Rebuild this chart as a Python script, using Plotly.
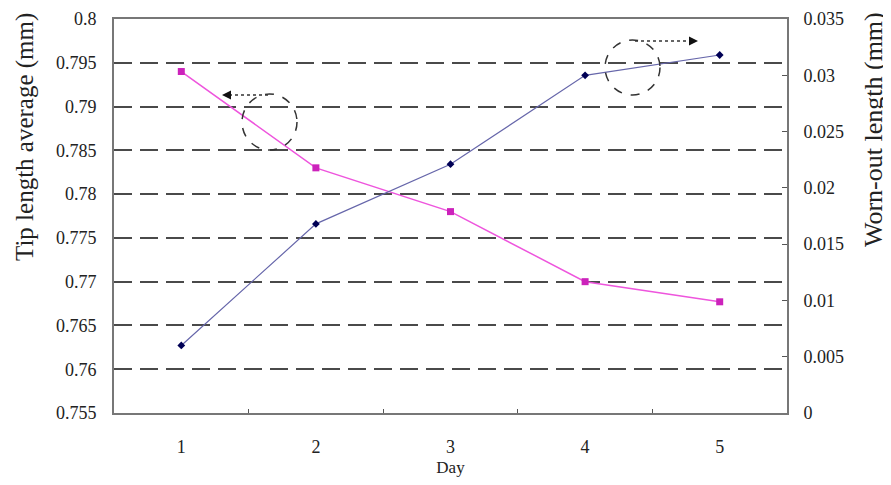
import plotly.graph_objects as go

days = ["1", "2", "3", "4", "5"]
tip_length = [0.7940, 0.7830, 0.7780, 0.7700, 0.7677]
worn_out = [0.0060, 0.0168, 0.0221, 0.0300, 0.0318]

left_ticks = [0.755, 0.76, 0.765, 0.77, 0.775, 0.78, 0.785, 0.79, 0.795, 0.8]
left_labels = ["0.755", "0.76", "0.765", "0.77", "0.775", "0.78", "0.785", "0.79", "0.795", "0.8"]
right_ticks = [0, 0.005, 0.01, 0.015, 0.02, 0.025, 0.03, 0.035]
right_labels = ["0", "0.005", "0.01", "0.015", "0.02", "0.025", "0.03", "0.035"]

FONT = "Liberation Serif, Times New Roman, serif"
TXT = "#222222"

fig = go.Figure()
fig.add_trace(go.Scatter(
    x=days, y=tip_length, mode="lines+markers", name="Tip length average",
    line=dict(color="#EE55DD", width=1.5),
    marker=dict(symbol="square", size=7, color="#CC22BB"),
    yaxis="y"))
fig.add_trace(go.Scatter(
    x=days, y=worn_out, mode="lines+markers", name="Worn-out length",
    line=dict(color="#6666AA", width=1.2),
    marker=dict(symbol="diamond", size=6, color="#000055"),
    yaxis="y2"))

# page has 8px body margin: figure is 883x477 placed at (8,8)
fig.update_layout(
    width=883, height=477,
    margin=dict(l=106, r=104, t=11, b=72),
    paper_bgcolor="white", plot_bgcolor="white",
    showlegend=False,
    font=dict(family=FONT, size=18, color=TXT),
    xaxis=dict(
        type="category", tickson="boundaries", ticks="inside", ticklen=4,
        tickcolor="#555555", showgrid=False, showline=True, linecolor="#777777",
        linewidth=2, mirror=True, range=[-0.5, 4.5], automargin=False,
        title=dict(text="Day", font=dict(family=FONT, size=17, color=TXT), standoff=6),
        tickfont=dict(family=FONT, size=18, color=TXT), ticklabelstandoff=16,
    ),
    yaxis=dict(
        range=[0.755, 0.8], tickvals=left_ticks, ticktext=left_labels,
        showgrid=True, gridcolor="#4a4a4a", gridwidth=2, griddash="18px,8px",
        zeroline=False, showline=True, linecolor="#777777", linewidth=2,
        ticks="", tickfont=dict(family=FONT, size=18, color=TXT), ticklabelstandoff=12,
        automargin=False, ticklabeloverflow="allow",
    ),
    yaxis2=dict(
        range=[0, 0.035], tickvals=right_ticks, ticktext=right_labels,
        overlaying="y", side="right", showgrid=False, zeroline=False,
        showline=True, linecolor="#777777", linewidth=2,
        ticks="inside", ticklen=5, tickcolor="#555555", automargin=False,
        tickfont=dict(family=FONT, size=18, color=TXT), ticklabelstandoff=11,
        ticklabeloverflow="allow",
    ),
)

PLOT_TOP, PLOT_BOTTOM = 19.0, 413.0

def px(x):
    return (x - 114) / 673.0

def py(y):
    return (PLOT_BOTTOM - y) / (PLOT_BOTTOM - PLOT_TOP)

# axis titles (placed like the reference, off-centre)
fig.add_annotation(xref="paper", yref="paper", x=px(25), y=py(137),
                   text="Tip length average (mm)", textangle=-90, showarrow=False,
                   font=dict(family=FONT, size=25, color=TXT),
                   xanchor="center", yanchor="middle")
fig.add_annotation(xref="paper", yref="paper", x=px(873), y=py(130),
                   text="Worn-out length (mm)", textangle=-90, showarrow=False,
                   font=dict(family=FONT, size=26, color=TXT),
                   xanchor="center", yanchor="middle")

# dashed ellipses
fig.add_shape(type="circle", xref="paper", yref="paper",
              x0=px(242), x1=px(297), y0=py(150), y1=py(94),
              line=dict(color="#333333", width=1.5, dash="dash"))
fig.add_shape(type="circle", xref="paper", yref="paper",
              x0=px(605), x1=px(660), y0=py(95), y1=py(40),
              line=dict(color="#333333", width=1.5, dash="dash"))
# dotted arrow lines
fig.add_shape(type="line", xref="paper", yref="paper",
              x0=px(268), x1=px(228), y0=py(95), y1=py(95),
              line=dict(color="#333333", width=1.5, dash="dot"))
fig.add_shape(type="line", xref="paper", yref="paper",
              x0=px(635), x1=px(692), y0=py(41), y1=py(41),
              line=dict(color="#333333", width=1.5, dash="dot"))
fig.add_annotation(xref="paper", yref="paper", x=px(222), y=py(95),
                   ax=10, ay=0, text="", showarrow=True, arrowhead=2,
                   arrowsize=1.2, arrowwidth=1.5, arrowcolor="#111111")
fig.add_annotation(xref="paper", yref="paper", x=px(698), y=py(41),
                   ax=-10, ay=0, text="", showarrow=True, arrowhead=2,
                   arrowsize=1.2, arrowwidth=1.5, arrowcolor="#111111")

fig.write_html("out.html")
